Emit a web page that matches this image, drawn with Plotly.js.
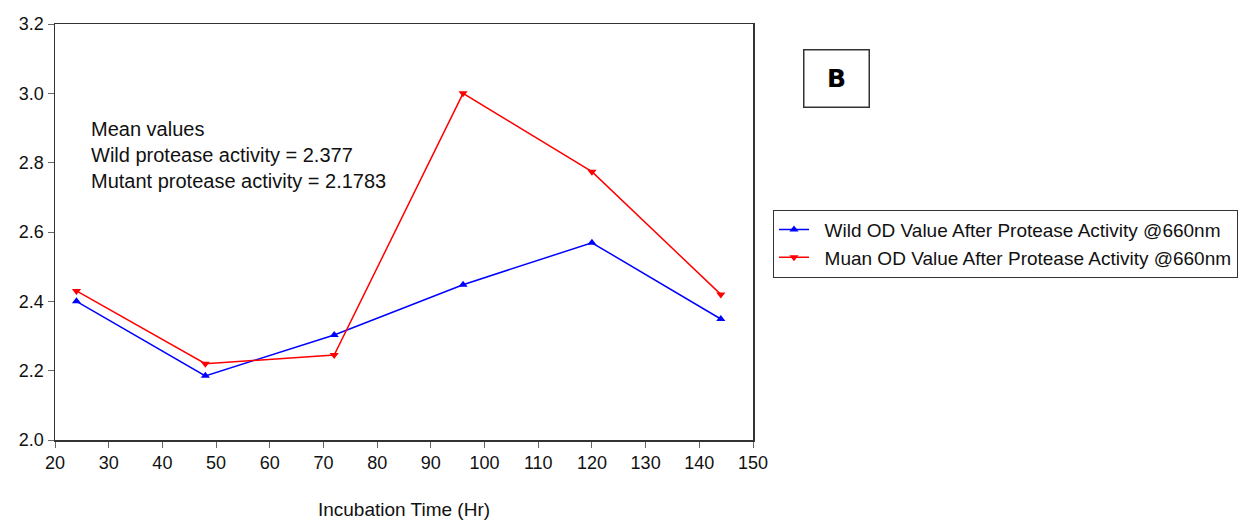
<!DOCTYPE html>
<html><head><meta charset="utf-8">
<script src="https://cdn.plot.ly/plotly-3.0.1.min.js"></script>
<style>html,body{margin:0;padding:0;background:#fff}</style>
</head><body>
<div id="chart" style="width:1248px;height:520px"></div>
<script>
const hours = [24, 48, 72, 96, 120, 144];
const wildOD = [2.40, 2.185, 2.303, 2.448, 2.569, 2.349];
const mutantOD = [2.43, 2.22, 2.245, 3.00, 2.774, 2.42];
const wildName = "Wild OD Value After Protease Activity @660nm";
const mutantName = "Muan OD Value After Protease Activity @660nm";
const noteLines = ["Mean values", "Wild protease activity = 2.377", "Mutant protease activity = 2.1783"];
const panelLabel = "B";

const fam = "Liberation Sans, Arial, sans-serif";
const font = {family: fam, size: 18, color: "#111"};
const pad = "\u00a0\u00a0";
const traces = [
  {x: hours, y: wildOD, name: pad + wildName, type: "scatter", mode: "lines+markers",
   line: {color: "#0000ff", width: 1.5}, marker: {symbol: "triangle-up", size: 8, color: "#0000ff"}},
  {x: hours, y: mutantOD, name: pad + mutantName, type: "scatter", mode: "lines+markers",
   line: {color: "#ff0000", width: 1.5}, marker: {symbol: "triangle-down", size: 8, color: "#ff0000"}}
];
const noteY = [129, 155, 181];
const annotations = noteLines.map((t, i) => ({
  text: t, xref: "paper", yref: "paper", x: (89 - 55) / 698, y: (440 - noteY[i]) / 415.5,
  xanchor: "left", yanchor: "middle", showarrow: false, align: "left",
  font: {family: fam, size: 20, color: "#111"}
}));
annotations.push({
  text: "<b>" + panelLabel + "</b>", xref: "paper", yref: "paper",
  x: (836 - 55) / 698, y: (440 - 79) / 415.5, xanchor: "center", yanchor: "middle",
  showarrow: false, width: 62, height: 54, bordercolor: "#333", borderwidth: 1.5, borderpad: 1,
  font: {family: "DejaVu Sans, sans-serif", size: 25, color: "#000"}
});
const layout = {
  width: 1248, height: 520,
  margin: {l: 55, r: 495, t: 24, b: 80, autoexpand: false},
  paper_bgcolor: "#fff", plot_bgcolor: "#fff",
  font: font,
  showlegend: true,
  legend: {x: (773 - 55) / 698, y: (440 - 210) / 415.5, xanchor: "left", yanchor: "top",
    bordercolor: "#333", borderwidth: 1, bgcolor: "#fff", font: {family: fam, size: 19, color: "#111"},
    tracegroupgap: 0},
  xaxis: {range: [20, 150], dtick: 10, tick0: 20, showgrid: false, zeroline: false,
    showline: true, linecolor: "#333", linewidth: 1.5, mirror: true,
    ticks: "outside", ticklen: 6, tickcolor: "#666", tickfont: font,
    title: {text: "Incubation Time (Hr)", font: {family: fam, size: 19, color: "#111"}, standoff: 44}},
  yaxis: {range: [2.0, 3.2], dtick: 0.2, tick0: 2.0, tickformat: ".1f", showgrid: false, zeroline: false,
    showline: true, linecolor: "#333", linewidth: 1.5, mirror: true,
    ticks: "outside", ticklen: 6, tickcolor: "#666", tickfont: font},
  annotations: annotations
};
Plotly.newPlot("chart", traces, layout, {displayModeBar: false, staticPlot: true});
</script>
</body></html>
